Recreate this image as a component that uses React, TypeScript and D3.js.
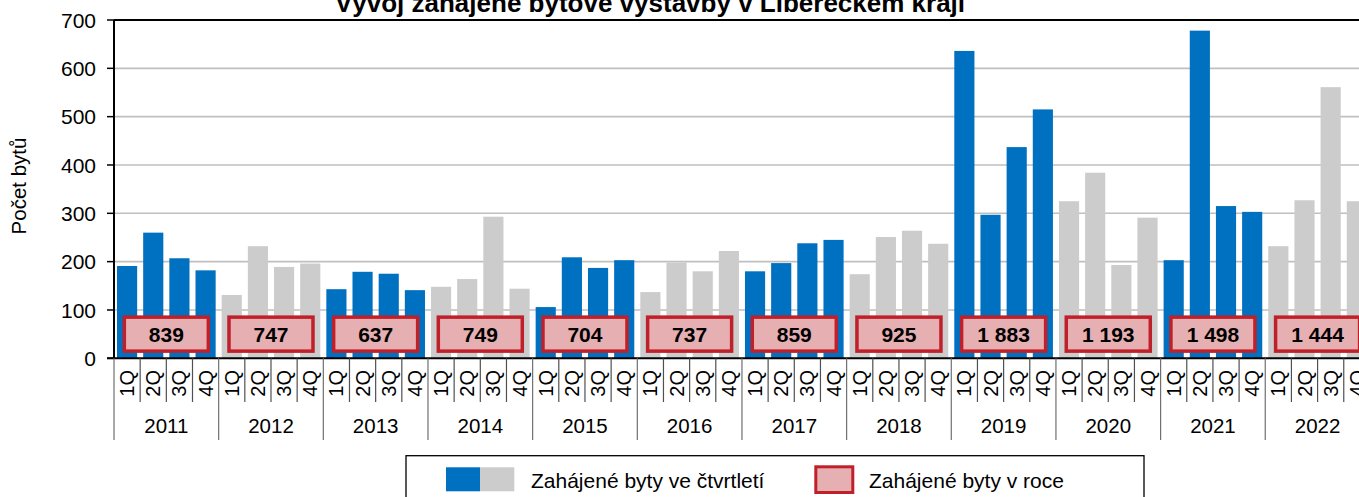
import React from 'react';
import * as d3 from 'd3';

const years = ['2011', '2012', '2013', '2014', '2015', '2016', '2017', '2018', '2019', '2020', '2021', '2022'];
const quarters = ['1Q', '2Q', '3Q', '4Q'];
const quarterlyValues = [
  191, 260, 207, 182,
  131, 232, 189, 196,
  143, 179, 175, 141,
  148, 164, 293, 144,
  106, 209, 187, 203,
  137, 198, 180, 222,
  180, 197, 238, 245,
  174, 251, 264, 237,
  636, 297, 437, 515,
  325, 384, 193, 291,
  203, 678, 315, 303,
  232, 327, 561, 325,
];
const annualValues = [839, 747, 637, 749, 704, 737, 859, 925, 1883, 1193, 1498, 1444];
const yTicks = [0, 100, 200, 300, 400, 500, 600, 700];
const annualLabelLevel = 50;

const title = 'Vývoj zahájené bytové výstavby v Libereckém kraji';
const yTitle = 'Počet bytů';
const legendQuarter = 'Zahájené byty ve čtvrtletí';
const legendYear = 'Zahájené byty v roce';

const W = 1359;
const H = 497;
const FONT = '"Liberation Sans", Arial, Helvetica, sans-serif';
const BLUE = '#0070C0';
const GRAY = '#CCCCCC';
const PINK = '#E6AFB2';
const RED = '#C0202A';

export default function App() {
  const left = 114;
  const right = 114 + 12 * 104.66;
  const top = 20;
  const bottom = 358.3;

  const items = years.flatMap((y, yi) => quarters.map((q, qi) => ({ year: y, yi, q, value: quarterlyValues[yi * 4 + qi], key: `${y}-${q}` })));

  const x = d3.scaleBand<string>().domain(items.map(d => d.key)).range([left, right]).paddingInner(0.23).paddingOuter(0.115);
  const slot = d3.scaleBand<string>().domain(items.map(d => d.key)).range([left, right]).padding(0);
  const xYear = d3.scaleBand<string>().domain(years).range([left, right]).padding(0);
  const y = d3.scaleLinear().domain([0, 700]).range([bottom, top]);

  const fmt = d3.formatLocale({ decimal: ',', thousands: ' ', grouping: [3], currency: ['', ''] }).format(',d');

  return (
    <svg width={W} height={H} style={{ position: 'absolute', left: 0, top: 0, background: '#fff' }} fontFamily={FONT}>
      {/* title */}
      <text x={650} y={12} textAnchor="middle" fontWeight="bold" fontSize={26} fill="#000">{title}</text>

      {/* gridlines */}
      {yTicks.filter(t => t > 0 && t < 700).map(t => (
        <line key={t} x1={left} x2={right} y1={y(t)} y2={y(t)} stroke="#BFBFBF" strokeWidth={1.6} />
      ))}

      {/* bars */}
      {items.map(d => (
        <rect key={d.key} x={x(d.key)} y={y(d.value)} width={x.bandwidth()} height={y(0) - y(d.value)}
          fill={d.yi % 2 === 0 ? BLUE : GRAY} />
      ))}

      {/* plot border */}
      <line x1={left} x2={right} y1={y(700)} y2={y(700)} stroke="#000" strokeWidth={2} />
      <line x1={left} x2={left} y1={y(700)} y2={y(0)} stroke="#000" strokeWidth={2} />
      <line x1={left - 7} x2={right} y1={y(0)} y2={y(0)} stroke="#000" strokeWidth={2} />

      {/* y axis ticks and labels */}
      {yTicks.map(t => (
        <g key={t}>
          <line x1={left - 7} x2={left} y1={y(t)} y2={y(t)} stroke="#000" strokeWidth={1.5} />
          <text x={left - 18} y={y(t)} dy="0.36em" textAnchor="end" fontSize={21} fill="#000">{t}</text>
        </g>
      ))}

      {/* y title */}
      <text transform={`translate(26,186) rotate(-90)`} textAnchor="middle" fontSize={20.5} fill="#000">{yTitle}</text>

      {/* annual boxes */}
      {years.map((yr, i) => {
        const cx = (xYear(yr) as number) + xYear.bandwidth() / 2;
        const cy = y(annualLabelLevel);
        return (
          <g key={yr}>
            <rect x={cx - 42} y={cy - 17} width={84} height={34} fill={PINK} stroke={RED} strokeWidth={3.5} />
            <text x={cx} y={cy} dy="0.37em" textAnchor="middle" fontWeight="bold" fontSize={21} fill="#000">{fmt(annualValues[i])}</text>
          </g>
        );
      })}

      {/* category separators */}
      {items.map((d, i) => {
        const sx = slot(d.key) as number;
        const isYear = i % 4 === 0;
        return (
          <line key={'s' + d.key} x1={sx} x2={sx} y1={y(0)} y2={isYear ? 440 : 402} stroke={isYear ? '#707070' : '#505050'} strokeWidth={1.2} />
        );
      })}

      {/* quarter labels */}
      {items.map(d => {
        const cx = (slot(d.key) as number) + slot.bandwidth() / 2;
        return (
          <text key={'q' + d.key} transform={`translate(${cx + 7},370) rotate(-90)`} textAnchor="end" fontSize={20} fill="#000">{d.q}</text>
        );
      })}

      {/* year labels */}
      {years.map(yr => (
        <text key={'y' + yr} x={(xYear(yr) as number) + xYear.bandwidth() / 2} y={433} textAnchor="middle" fontSize={20.5} fill="#000">{yr}</text>
      ))}

      {/* legend */}
      <rect x={406} y={455.7} width={738} height={60} fill="#fff" stroke="#000" strokeWidth={1.3} />
      <rect x={446} y={467.3} width={34} height={24} fill={BLUE} />
      <rect x={480} y={467.3} width={34.3} height={24} fill={GRAY} />
      <text x={531} y={487.7} fontSize={21} fill="#000">{legendQuarter}</text>
      <rect x={815.8} y={466.8} width={37} height={25.7} fill={PINK} stroke={RED} strokeWidth={3} />
      <text x={869} y={487.7} fontSize={21} fill="#000">{legendYear}</text>
    </svg>
  );
}
